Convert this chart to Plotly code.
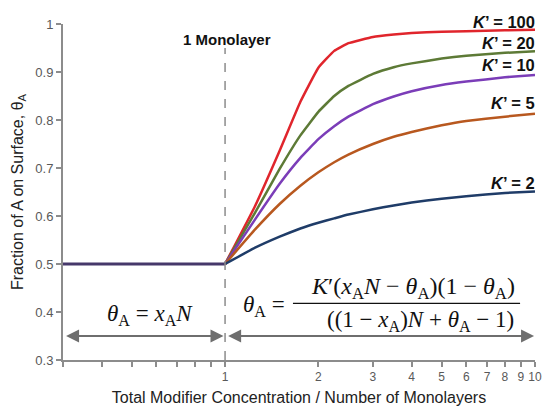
import math
import plotly.graph_objects as go

# ---- data ----
N_flat = [0.3, 1.0]
theta_flat = [0.5, 0.5]

N = [1, 1.25, 1.5, 1.75, 2, 2.25, 2.5, 3, 3.5, 4, 5, 6, 8, 10]
theta_K100 = [0.5, 0.621, 0.736, 0.838, 0.909, 0.944, 0.960, 0.973, 0.978, 0.981, 0.984, 0.985, 0.987, 0.988]
theta_K20 = [0.5, 0.607, 0.698, 0.768, 0.817, 0.850, 0.871, 0.896, 0.910, 0.918, 0.928, 0.934, 0.940, 0.943]
theta_K10 = [0.5, 0.593, 0.667, 0.721, 0.760, 0.787, 0.807, 0.833, 0.849, 0.860, 0.873, 0.880, 0.889, 0.894]
theta_K5 = [0.5, 0.572, 0.625, 0.663, 0.691, 0.712, 0.728, 0.750, 0.765, 0.775, 0.789, 0.798, 0.807, 0.813]
theta_K2 = [0.5, 0.534, 0.557, 0.574, 0.586, 0.595, 0.603, 0.614, 0.622, 0.628, 0.636, 0.641, 0.648, 0.651]

series = [
    ("K' = 100", theta_K100, "#e0252c"),
    ("K' = 20", theta_K20, "#5d7a36"),
    ("K' = 10", theta_K10, "#7b3db8"),
    ("K' = 5", theta_K5, "#b8581f"),
    ("K' = 2", theta_K2, "#1f3c68"),
]
label_px = [22, 43, 65, 103, 183]   # label centre rows (pixels)

x_tickvals = [0.3, 0.4, 0.5, 0.6, 0.7, 0.8, 0.9, 1, 2, 3, 4, 5, 6, 7, 8, 9, 10]
x_ticktext = ["", "", "", "", "", "", "", "1", "2", "3", "4", "5", "6", "7", "8", "9", "10"]
y_tickvals = [0.3, 0.4, 0.5, 0.6, 0.7, 0.8, 0.9, 1.0]
y_ticktext = ["0.3", "0.4", "0.5", "0.6", "0.7", "0.8", "0.9", "1"]

W, H = 543, 410
ML, MR, MT, MB = 63, 8, 24, 50
PW, PH = W - ML - MR, H - MT - MB


def py2paper(py):
    return (H - MB - py) / PH


fig = go.Figure()
for name, ys, col in series:
    fig.add_trace(go.Scatter(x=N, y=ys, mode="lines", name=name,
                             line=dict(color=col, width=2.5, shape="spline", smoothing=0.3),
                             showlegend=False, hoverinfo="skip"))
fig.add_trace(go.Scatter(x=N_flat, y=theta_flat, mode="lines",
                         line=dict(color="#46386a", width=2.8),
                         showlegend=False, hoverinfo="skip"))

axcol = "#8c8c8c"
fig.update_layout(
    width=W, height=H,
    margin=dict(l=ML, r=MR, t=MT, b=MB),
    plot_bgcolor="white", paper_bgcolor="white",
    font=dict(family="Liberation Sans, Arial, sans-serif", color="#222222"),
    xaxis=dict(type="log", range=[math.log10(0.3), 1.0], automargin=False,
               tickvals=x_tickvals, ticktext=x_ticktext,
               ticks="outside", ticklen=5, tickwidth=1.5, tickcolor=axcol,
               showline=True, linecolor=axcol, linewidth=2,
               showgrid=False, zeroline=False,
               tickfont=dict(size=12, color="#595959"),
               title=dict(text="Total Modifier Concentration / Number of Monolayers",
                          font=dict(size=16, color="#222222"), standoff=8)),
    yaxis=dict(range=[0.3, 1.0], tickvals=y_tickvals, ticktext=y_ticktext, automargin=False,
               ticks="outside", ticklen=5, tickwidth=1.5, tickcolor=axcol,
               showline=True, linecolor=axcol, linewidth=2,
               showgrid=False, zeroline=False,
               tickfont=dict(size=13, color="#595959"),
               title=dict(text="Fraction of A on Surface, θ<sub>A</sub>",
                          font=dict(size=16, color="#222222"), standoff=8)),
)

# dashed monolayer line
fig.add_shape(type="line", xref="x", yref="y", x0=1, x1=1, y0=0.3, y1=0.95,
              line=dict(color="#8c8c8c", width=1.5, dash="dash"))
fig.add_annotation(x=0.005, y=0.967, xref="x", yref="y", text="<b>1 Monolayer</b>",
                   showarrow=False, font=dict(size=15, color="#111111"))

# K' labels
for (name, ys, col), lp in zip(series, label_px):
    k = name.split("= ")[1]
    fig.add_annotation(x=1.0, y=py2paper(lp), xref="paper", yref="paper",
                       xanchor="right", yanchor="middle", borderpad=0, borderwidth=0,
                       text=f"<b><i>K</i>’ = {k}</b>", showarrow=False,
                       font=dict(size=16.5, color="#111111"))

# arrows
acol = "#6e6e6e"
fig.add_annotation(x=-0.005, y=0.35, ax=math.log10(0.3) + 0.005, ay=0.35,
                   xref="x", yref="y", axref="x", ayref="y", text="",
                   showarrow=True, arrowhead=2, startarrowhead=2, arrowside="end+start",
                   arrowsize=1.3, arrowwidth=2, arrowcolor=acol)
fig.add_annotation(x=0.997, y=0.35, ax=0.005, ay=0.35,
                   xref="x", yref="y", axref="x", ayref="y", text="",
                   showarrow=True, arrowhead=2, startarrowhead=2, arrowside="end+start",
                   arrowsize=1.3, arrowwidth=2, arrowcolor=acol)

# equations
ef = dict(family="Liberation Serif, DejaVu Serif, serif", size=23, color="#111111")
fig.add_annotation(x=-0.242, y=0.394, xref="x", yref="y", showarrow=False, font=ef,
                   text="<i>θ</i><sub>A</sub> = <i>x</i><sub>A</sub><i>N</i>")
fig.add_annotation(x=0.125, y=0.412, xref="x", yref="y", showarrow=False, font=ef,
                   text="<i>θ</i><sub>A</sub> =")
fig.add_annotation(x=0.605, y=0.449, xref="x", yref="y", showarrow=False, font=dict(ef, size=24),
                   text="<i>K</i>′(<i>x</i><sub>A</sub><i>N</i> − <i>θ</i><sub>A</sub>)(1 − <i>θ</i><sub>A</sub>)")
fig.add_annotation(x=0.632, y=0.382, xref="x", yref="y", showarrow=False, font=ef,
                   text="((1 − <i>x</i><sub>A</sub>)<i>N</i> + <i>θ</i><sub>A</sub> − 1)")
fig.add_shape(type="line", xref="x", yref="y", x0=1.656, x1=8.95, y0=0.418, y1=0.418,
              line=dict(color="#111111", width=1.2))

fig.write_html("out.html")
